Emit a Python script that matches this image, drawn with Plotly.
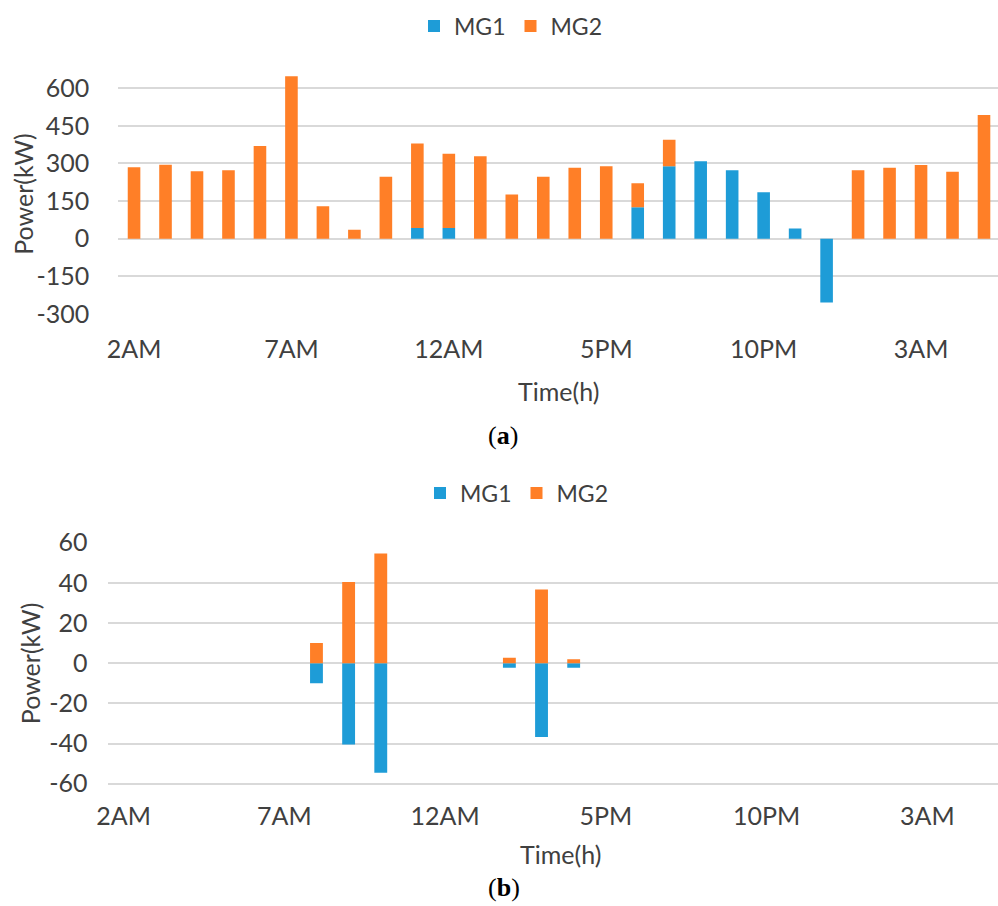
import plotly.graph_objects as go

# ---- data ----
slots = list(range(28))  # hourly slots starting at 2AM, ending 5AM next day
tick_slots = [0, 5, 10, 15, 20, 25]
tick_labels = ["2AM", "7AM", "12AM", "5PM", "10PM", "3AM"]

# (a) power exchange
mg1_a = [0, 0, 0, 0, 0, 0, 0, 0, 0, 43, 43, 0, 0, 0, 0, 0, 125, 289,
         309, 273, 185, 41, -254, 0, 0, 0, 0, 0]
mg2_a = [285, 295, 269, 273, 370, 648, 129, 36, 247, 337, 296, 329, 176, 247,
         283, 289, 96, 106, 0, 0, 0, 0, 0, 273, 283, 294, 267, 493]

# (b) power exchange
mg1_b = [0, 0, 0, 0, 0, 0, -10, -40.5, -54.5, 0, 0, 0, -2.3, -36.8, -2.3,
         0, 0, 0, 0, 0, 0, 0, 0, 0, 0, 0, 0, 0]
mg2_b = [0, 0, 0, 0, 0, 0, 10, 40.5, 54.6, 0, 0, 0, 2.7, 36.7, 2.0,
         0, 0, 0, 0, 0, 0, 0, 0, 0, 0, 0, 0, 0]

yticks_a = [-300, -150, 0, 150, 300, 450, 600]
ylabels_a = ["-300", "-150", "0", "150", "300", "450", "600"]
yticks_b = [-60, -40, -20, 0, 20, 40, 60]
ylabels_b = ["-60", "-40", "-20", "0", "20", "40", "60"]

# ---- style ----
W, H = 998, 906
BLUE = "#1E9CD7"
ORANGE = "#FF7F27"
TXT = "#404040"
GRID = "#d9d9d9"
FONT = "Lato"
FS = 25
LFS = 23


def px_x(p):
    return p / W


def px_y(p):
    return 1 - p / H


fig = go.Figure()
fig.add_trace(go.Bar(x=slots, y=mg1_a, name="MG1", marker=dict(color=BLUE, line=dict(width=0)),
                     width=0.4, xaxis="x", yaxis="y", legend="legend"))
fig.add_trace(go.Bar(x=slots, y=mg2_a, name="MG2", marker=dict(color=ORANGE, line=dict(width=0)),
                     width=0.4, xaxis="x", yaxis="y", legend="legend"))
fig.add_trace(go.Bar(x=slots, y=mg1_b, name="MG1", marker=dict(color=BLUE, line=dict(width=0)),
                     width=0.4, xaxis="x2", yaxis="y2", legend="legend2"))
fig.add_trace(go.Bar(x=slots, y=mg2_b, name="MG2", marker=dict(color=ORANGE, line=dict(width=0)),
                     width=0.4, xaxis="x2", yaxis="y2", legend="legend2"))

# top plot geometry
a_left, a_step = 118.3, 31.48
a_top_val, a_bot_val = 660, -302
a_zero, a_ppu = 238.7, 0.2507
a_top_px = a_zero - a_top_val * a_ppu
a_bot_px = a_zero - a_bot_val * a_ppu

# bottom plot geometry
b_left, b_step = 107.5, 32.15
b_top_val, b_bot_val = 60.5, -60.5
b_zero, b_ppu = 663.2, 2.008
b_top_px = b_zero - b_top_val * b_ppu
b_bot_px = b_zero - b_bot_val * b_ppu

axis_common = dict(showline=False, zeroline=False, automargin=False,
                   tickfont=dict(family=FONT, size=FS, color=TXT))

fig.update_layout(
    width=W, height=H, margin=dict(l=0, r=0, t=0, b=0, autoexpand=False),
    paper_bgcolor="white", plot_bgcolor="white",
    barmode="relative", bargap=0.6,
    font=dict(family=FONT, size=FS, color=TXT),
    xaxis=dict(domain=[px_x(a_left), 1], range=[-0.5, -0.5 + (W - a_left) / a_step],
               tickmode="array", tickvals=tick_slots, ticktext=tick_labels,
               showgrid=False, ticks="outside", ticklen=13, tickcolor="rgba(0,0,0,0)",
               anchor="y", **axis_common),
    yaxis=dict(domain=[px_y(a_bot_px), px_y(a_top_px)], range=[a_bot_val, a_top_val],
               tickmode="array", tickvals=yticks_a, ticktext=ylabels_a,
               showgrid=True, gridcolor=GRID, gridwidth=1.6,
               ticks="outside", ticklen=23, tickcolor="rgba(0,0,0,0)", anchor="x", **axis_common),
    xaxis2=dict(domain=[px_x(b_left), 1], range=[-0.5, -0.5 + (W - b_left) / b_step],
                tickmode="array", tickvals=tick_slots, ticktext=tick_labels,
                showgrid=False, ticks="outside", ticklen=9, tickcolor="rgba(0,0,0,0)",
                anchor="y2", **axis_common),
    yaxis2=dict(domain=[px_y(b_bot_px), px_y(b_top_px)], range=[b_bot_val, b_top_val],
                tickmode="array", tickvals=yticks_b, ticktext=ylabels_b,
                showgrid=True, gridcolor=GRID, gridwidth=1.6,
                ticks="outside", ticklen=14, tickcolor="rgba(0,0,0,0)", anchor="x2", **axis_common),
    legend=dict(orientation="h", x=px_x(414), y=px_y(26), xanchor="left", yanchor="middle",
                font=dict(family=FONT, size=LFS, color=TXT), bgcolor="rgba(0,0,0,0)",
                traceorder="normal"),
    legend2=dict(orientation="h", x=px_x(420), y=px_y(493), xanchor="left", yanchor="middle",
                 font=dict(family=FONT, size=LFS, color=TXT), bgcolor="rgba(0,0,0,0)",
                 traceorder="normal"),
    showlegend=True,
)

annotations = [
    dict(text="Power(kW)", x=px_x(23), y=px_y((a_top_px + a_bot_px) / 2), textangle=-90),
    dict(text="Power(kW)", x=px_x(30), y=px_y((b_top_px + b_bot_px) / 2), textangle=-90),
    dict(text="Time(h)", x=px_x(558.5), y=px_y(391)),
    dict(text="Time(h)", x=px_x(560), y=px_y(854)),
]
for a in annotations:
    a.update(xref="paper", yref="paper", xanchor="center", yanchor="middle", showarrow=False,
             font=dict(family=FONT, size=FS, color=TXT))
    fig.add_annotation(**a)

for lab, xc, yc in [("(<b>a</b>)", 503, 435), ("(<b>b</b>)", 504, 887)]:
    fig.add_annotation(text=lab, x=px_x(xc), y=px_y(yc), xref="paper", yref="paper",
                       xanchor="center", yanchor="middle", showarrow=False,
                       font=dict(family="Liberation Serif", size=26, color="black"))

fig.write_html("out.html")
